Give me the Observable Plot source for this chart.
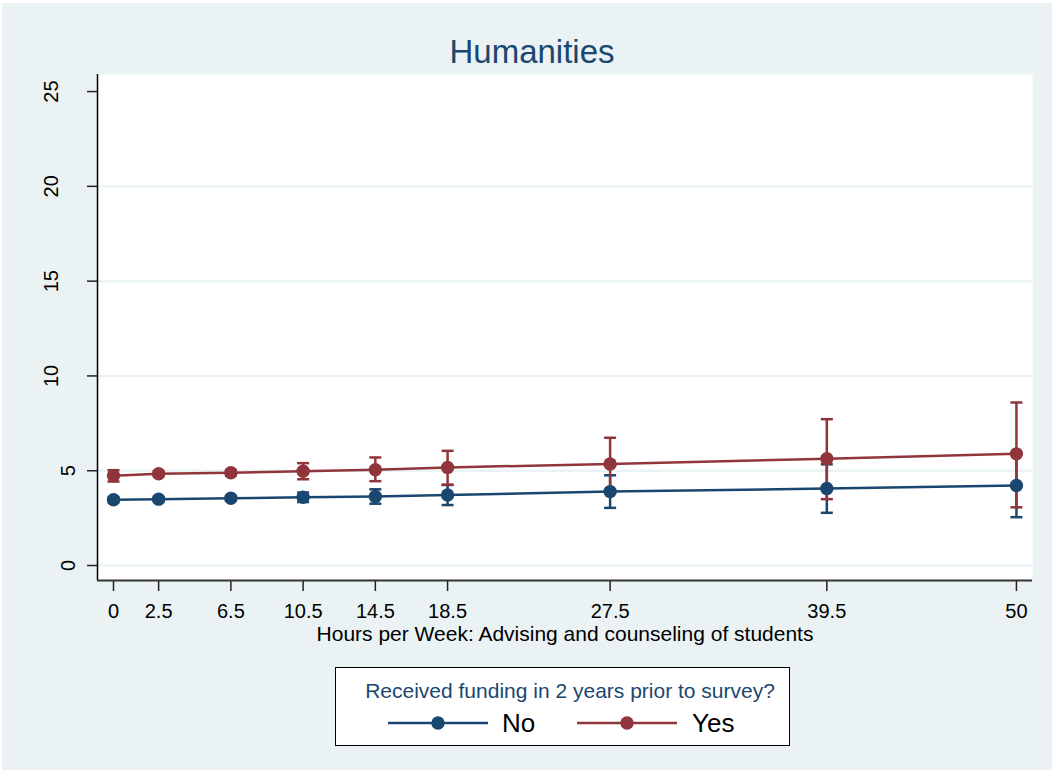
<!DOCTYPE html>
<html>
<head>
<meta charset="utf-8">
<script src="https://cdn.jsdelivr.net/npm/d3@7"></script>
<script src="https://cdn.jsdelivr.net/npm/@observablehq/plot@0.6"></script>
<style>
  html, body { margin: 0; padding: 0; background: #ffffff; }
  #wrap { position: relative; width: 1056px; height: 774px; font-family: "Liberation Sans", Arial, sans-serif; }
  #bg { position: absolute; left: 2px; top: 3px; width: 1050px; height: 767px; background: #EAF2F3; }
  #title { position: absolute; left: 0; width: 1064px; top: 32px; line-height: 40px; text-align: center; font-size: 33px; color: #1A476F; }
  #chart { position: absolute; left: 0; top: 0; }
  #legend { position: absolute; left: 335px; top: 667px; width: 453px; height: 77px; background: #fff; border: 1.5px solid #000; }
  #legend .lt { position: absolute; left: 0; width: 468px; top: 12px; line-height: 22px; text-align: center; font-size: 21px; color: #1A476F; }
  #legend .lab { position: absolute; top: 40px; line-height: 30px; font-size: 26px; color: #000; }
  #legend svg { position: absolute; top: 47px; }
</style>
</head>
<body>
<div id="wrap">
  <div id="bg"></div>
  <div id="title"></div>
  <div id="chart"></div>
  <div id="legend"></div>
</div>
<script>
// ---- data ----
const chartTitle = "Humanities";
const xLabel = "Hours per Week: Advising and counseling of students";
const legendTitle = "Received funding in 2 years prior to survey?";
const groups = ["No", "Yes"];
const groupColors = ["#1A476F", "#90353B"];
const hours = [0, 2.5, 6.5, 10.5, 14.5, 18.5, 27.5, 39.5, 50];
const xTicks = [0, 2.5, 6.5, 10.5, 14.5, 18.5, 27.5, 39.5, 50];
const yTicks = [0, 5, 10, 15, 20, 25];
const yGrid = [0, 5, 10, 15, 20];

const noMean = [3.47, 3.50, 3.55, 3.60, 3.64, 3.72, 3.90, 4.06, 4.22];
const noLo   = [3.33, 3.38, 3.42, 3.35, 3.26, 3.19, 3.04, 2.78, 2.55];
const noHi   = [3.61, 3.62, 3.68, 3.85, 4.02, 4.25, 4.76, 5.34, 5.89];

const yesMean = [4.73, 4.84, 4.89, 4.97, 5.05, 5.17, 5.36, 5.63, 5.89];
const yesLo   = [4.43, 4.70, 4.74, 4.55, 4.45, 4.26, 3.98, 3.50, 3.07];
const yesHi   = [5.03, 4.98, 5.04, 5.40, 5.70, 6.05, 6.74, 7.72, 8.60];

// ---- table ----
const series = {No: [noMean, noLo, noHi], Yes: [yesMean, yesLo, yesHi]};
const rows = groups.flatMap(g => hours.map((h, i) => ({
  h, group: g, mean: series[g][0][i], lo: series[g][1][i], hi: series[g][2][i]
})));

const bg = "#EAF2F3";
const capSymbol = { draw(ctx) { ctx.moveTo(-6, 0); ctx.lineTo(6, 0); } };

const marks = [
  Plot.frame({fill: "white", stroke: null}),
  Plot.gridY(yGrid, {stroke: bg, strokeOpacity: 1, strokeWidth: 2.5}),
];
for (const g of groups) {
  const d = rows.filter(r => r.group === g);
  marks.push(
    Plot.ruleX(d, {x: "h", y1: "lo", y2: "hi", stroke: "group", strokeWidth: 2.5}),
    Plot.dot(d, {x: "h", y: "lo", symbol: capSymbol, stroke: "group", fill: "none", strokeWidth: 2.5, r: 5}),
    Plot.dot(d, {x: "h", y: "hi", symbol: capSymbol, stroke: "group", fill: "none", strokeWidth: 2.5, r: 5})
  );
}
for (const g of groups) {
  const d = rows.filter(r => r.group === g);
  marks.push(
    Plot.line(d, {x: "h", y: "mean", stroke: "group", strokeWidth: 2.5}),
    Plot.dot(d, {x: "h", y: "mean", fill: "group", r: 6.7})
  );
}
const yShort = yTicks.filter(t => String(t).length === 1);
const yLong = yTicks.filter(t => String(t).length > 1);
marks.push(
  Plot.axisX(xTicks, {tickSize: 11, tickPadding: 12, fontSize: 20, label: null, stroke: "#222", strokeWidth: 1.5, color: "#000", tickFormat: d => String(d)}),
  Plot.axisY(yTicks, {tickSize: 10, tickFormat: () => "", label: null, stroke: "#222", strokeWidth: 1.5}),
  Plot.text(yShort, {y: d => d, text: d => String(d), frameAnchor: "left", dx: -28.5, rotate: -90, textAnchor: "middle", lineAnchor: "middle", fontSize: 20, fill: "#000"}),
  Plot.text(yLong, {y: d => d, text: d => String(d), frameAnchor: "left", dx: -46, rotate: -90, textAnchor: "middle", lineAnchor: "middle", fontSize: 20, fill: "#000"}),
  Plot.ruleX([-0.886], {stroke: "#000", strokeWidth: 1.5}),
  Plot.ruleY([-0.79], {stroke: "#333", strokeWidth: 2}),
  Plot.text([xLabel], {frameAnchor: "bottom", dy: 60, fontSize: 21, fill: "#000", text: d => d})
);

const chart = Plot.plot({
  width: 1056,
  height: 660,
  marginLeft: 97,
  marginTop: 74,
  marginRight: 24,
  marginBottom: 80,
  style: {background: "transparent", fontFamily: "'Liberation Sans', Arial, sans-serif", overflow: "visible"},
  x: {domain: [-0.886, 50.89]},
  y: {domain: [-0.79, 25.9]},
  color: {domain: groups, range: groupColors},
  marks
});
document.getElementById("chart").appendChild(chart);
document.getElementById("title").textContent = chartTitle;

// ---- legend ----
const leg = document.getElementById("legend");
const lt = document.createElement("div");
lt.className = "lt";
lt.textContent = legendTitle;
leg.appendChild(lt);
const legendPos = [{sx: 51, lx: 166}, {sx: 240, lx: 356}];
groups.forEach((g, i) => {
  const ns = "http://www.w3.org/2000/svg";
  const s = document.createElementNS(ns, "svg");
  s.setAttribute("width", 102); s.setAttribute("height", 16);
  s.style.left = legendPos[i].sx + "px";
  const ln = document.createElementNS(ns, "line");
  ln.setAttribute("x1", 1); ln.setAttribute("x2", 101); ln.setAttribute("y1", 8); ln.setAttribute("y2", 8);
  ln.setAttribute("stroke", groupColors[i]); ln.setAttribute("stroke-width", 2.5);
  const c = document.createElementNS(ns, "circle");
  c.setAttribute("cx", 51); c.setAttribute("cy", 8); c.setAttribute("r", 6.7); c.setAttribute("fill", groupColors[i]);
  s.appendChild(ln); s.appendChild(c);
  leg.appendChild(s);
  const lab = document.createElement("div");
  lab.className = "lab";
  lab.style.left = legendPos[i].lx + "px";
  lab.textContent = g;
  leg.appendChild(lab);
});
</script>
</body>
</html>
